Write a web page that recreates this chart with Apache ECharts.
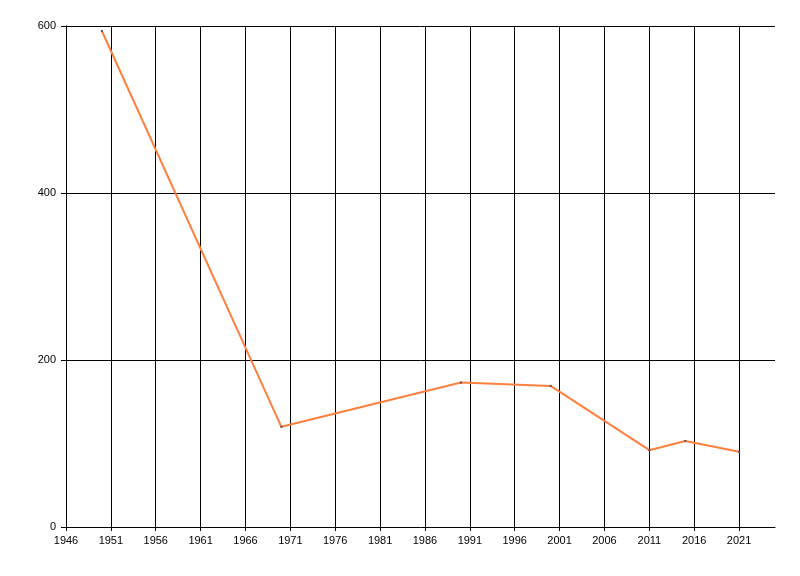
<!DOCTYPE html>
<html>
<head>
<meta charset="utf-8">
<script src="https://cdn.jsdelivr.net/npm/echarts@6/dist/echarts.min.js"></script>
<style>
html,body{margin:0;padding:0;background:#fff;}
#main{width:800px;height:576px;}
</style>
</head>
<body>
<div id="main"></div>
<script>
const years = [1950, 1970, 1990, 2000, 2011, 2015, 2021];
const values = [594, 120, 173, 169, 92, 103, 90];
const xTicks = [1946,1951,1956,1961,1966,1971,1976,1981,1986,1991,1996,2001,2006,2011,2016,2021];
const yTicks = [0, 200, 400, 600];

const chart = echarts.init(document.getElementById('main'));
const font = {fontFamily: 'Liberation Sans', fontSize: 11, color: '#000'};
chart.setOption({
  animation: false,
  backgroundColor: '#fff',
  grid: {left: 66, right: 25, top: 26, bottom: 49, containLabel: false},
  xAxis: {
    type: 'value',
    min: 1946, max: 2025, interval: 5,
    axisLine: {show: true, lineStyle: {color: '#000', width: 1}},
    axisTick: {show: true, length: 4, lineStyle: {color: '#000'}, customValues: xTicks},
    axisLabel: Object.assign({margin: 8, customValues: xTicks, formatter: v => String(v)}, font),
    splitLine: {show: true, showMinLine: false, showMaxLine: true, lineStyle: {color: '#000', width: 1}}
  },
  yAxis: {
    type: 'value',
    min: 0, max: 600, interval: 200,
    axisLine: {show: true, lineStyle: {color: '#000', width: 1}},
    axisTick: {show: true, length: 5, lineStyle: {color: '#000'}},
    axisLabel: Object.assign({margin: 10, customValues: yTicks}, font),
    splitLine: {show: true, showMinLine: false, lineStyle: {color: '#000', width: 1}}
  },
  series: [{
    type: 'line',
    data: years.map((y, i) => [y, values[i]]),
    symbol: 'rect',
    symbolSize: 2,
    showSymbol: true,
    itemStyle: {color: '#555'},
    lineStyle: {color: '#ff7f3f', width: 2},
    z: 5
  }]
});
</script>
</body>
</html>
